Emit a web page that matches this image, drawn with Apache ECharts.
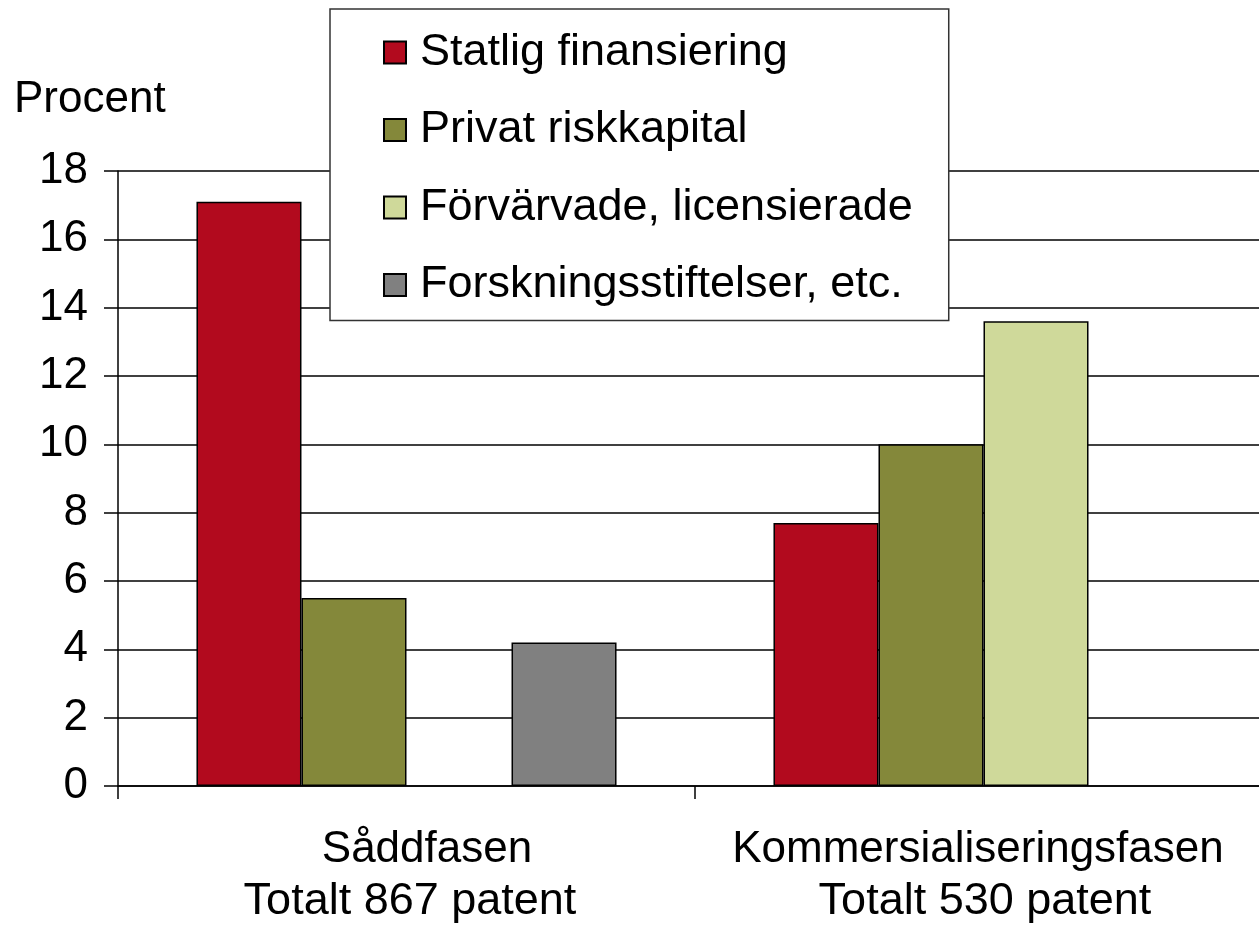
<!DOCTYPE html>
<html>
<head>
<meta charset="utf-8">
<script src="https://cdn.jsdelivr.net/npm/echarts@6/dist/echarts.min.js"></script>
<style>html,body{margin:0;padding:0;background:#fff;overflow:hidden;width:1259px;height:928px}#c{width:1272px;height:928px}</style>
</head>
<body>
<div id="c"></div>
<script>
const categories = ['Såddfasen\nTotalt 867 patent', 'Kommersialiseringsfasen\nTotalt 530 patent'];
const seriesNames = ['Statlig finansiering', 'Privat riskkapital', 'Förvärvade, licensierade', 'Forskningsstiftelser, etc.'];
const statlig = [17.1, 7.7];
const privat = [5.5, 10.0];
const forvarvade = [null, 13.6];
const forskning = [4.2, null];
const yTicks = [0, 2, 4, 6, 8, 10, 12, 14, 16, 18];
const colors = ['#B20A1E', '#84883A', '#CFD99A', '#808080'];

const FONT = '"Liberation Sans", Arial, sans-serif';
const values = [statlig, privat, forvarvade, forskning];

const chart = echarts.init(document.getElementById('c'), null, {renderer: 'canvas'});
chart.setOption({
  animation: false,
  backgroundColor: '#fff',
  textStyle: {fontFamily: FONT, color: '#000'},
  grid: {left: 118, top: 171, bottom: 141, right: 0, containLabel: false},
  graphic: [{
    type: 'text', left: 14, top: 78,
    style: {text: 'Procent', font: '44px ' + FONT, fill: '#000'}
  }],
  legend: {
    orient: 'vertical', left: 330, top: 9,
    padding: [21, 36, 13, 53],
    itemWidth: 22, itemHeight: 22, itemGap: 32.5,
    icon: 'rect',
    backgroundColor: '#fff', borderColor: '#333', borderWidth: 1.5,
    textStyle: {fontFamily: FONT, fontSize: 45, color: '#000', lineHeight: 44, padding: [0, 0, 0, 9]},
    data: seriesNames
  },
  xAxis: {
    type: 'category', data: categories,
    axisLine: {lineStyle: {color: '#000', width: 1.5}},
    axisTick: {show: true, length: 13, lineStyle: {color: '#000', width: 1.5}},
    axisLabel: {
      fontFamily: FONT, fontSize: 44, color: '#000', lineHeight: 52, margin: 38, interval: 0,
      formatter: function (v, idx) {
        const parts = v.split('\n');
        return '{a' + idx + '|' + parts[0] + '}\n{b' + idx + '|' + parts[1] + '}';
      },
      rich: {
        a0: {fontFamily: FONT, fontSize: 44, lineHeight: 52, color: '#000', padding: [0, 0, 0, 41]},
        b0: {fontFamily: FONT, fontSize: 45, lineHeight: 52, color: '#000', padding: [0, 0, 0, 7]},
        a1: {fontFamily: FONT, fontSize: 44, lineHeight: 52, color: '#000', padding: [0, 11, 0, 0]},
        b1: {fontFamily: FONT, fontSize: 45, lineHeight: 52, color: '#000', padding: [0, 0, 0, 3]}
      }
    }
  },
  yAxis: {
    type: 'value', min: yTicks[0], max: yTicks[yTicks.length - 1], interval: 2,
    axisLine: {show: true, lineStyle: {color: '#000', width: 1.5}},
    axisTick: {show: true, length: 14, lineStyle: {color: '#000', width: 1.5}},
    axisLabel: {fontFamily: FONT, fontSize: 44, color: '#000', margin: 30},
    splitLine: {lineStyle: {color: '#000', width: 1.5}}
  },
  series: seriesNames.map((n, i) => ({
    name: n, type: 'bar', data: values[i],
    barGap: '0%', barCategoryGap: '27.2%',
    itemStyle: {color: colors[i], borderColor: '#000', borderWidth: 1.5}
  }))
});
</script>
</body>
</html>
